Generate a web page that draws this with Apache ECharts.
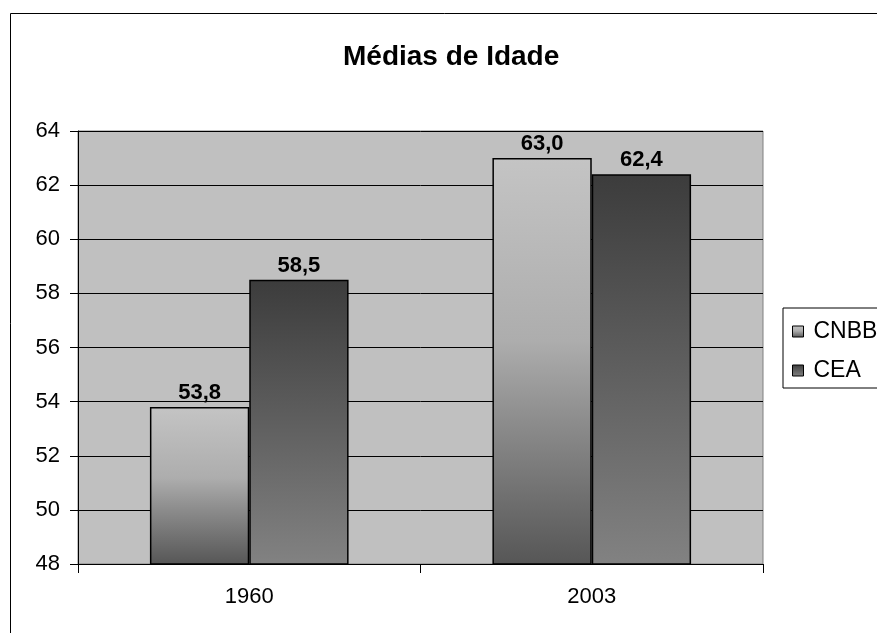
<!DOCTYPE html>
<html>
<head>
<meta charset="utf-8">
<script src="https://cdn.jsdelivr.net/npm/echarts@6/dist/echarts.min.js"></script>
<style>
  html, body { margin: 0; padding: 0; background: #fff; }
  #chart { width: 877px; height: 633px; }
</style>
</head>
<body>
<div id="chart"></div>
<script>
// dados do grafico
var categorias = ['1960', '2003'];
var cnbb = [53.8, 63.0];
var cea = [58.5, 62.4];
var nomesSeries = ['CNBB', 'CEA'];

var chart = echarts.init(document.getElementById('chart'));

// gradientes cinza (estilo Excel)
var gradCnbb = new echarts.graphic.LinearGradient(0, 0, 0, 1, [
    { offset: 0, color: '#c4c4c4' },
    { offset: 0.45, color: '#adadad' },
    { offset: 0.65, color: '#8c8c8c' },
    { offset: 1, color: '#565656' }
]);
var gradCea = new echarts.graphic.LinearGradient(0, 0, 0, 1, [
    { offset: 0, color: '#3c3c3c' },
    { offset: 1, color: '#828282' }
]);

function rotulo(p) {
    return p.value.toFixed(1).replace('.', ',');
}

var fonte = 'Liberation Sans, Arial, sans-serif';

var option = {
    animation: false,
    backgroundColor: '#fff',
    textStyle: { fontFamily: fonte },
    title: {
        text: 'Médias de Idade',
        left: 338,
        top: 38,
        textStyle: { fontFamily: fonte, fontSize: 28, fontWeight: 'bold', color: '#000' }
    },
    graphic: [{
        type: 'rect',
        z: -1,
        shape: { x: 10.5, y: 13.5, width: 1000, height: 1000 },
        style: { fill: 'none', stroke: '#000', lineWidth: 1 }
    }],
    legend: {
        orient: 'vertical',
        left: 783,
        top: 308,
        padding: [12, 40, 6, 9],
        itemGap: 16,
        itemWidth: 11,
        itemHeight: 11,
        icon: 'rect',
        borderColor: '#000',
        borderWidth: 1,
        backgroundColor: '#fff',
        itemStyle: { borderColor: '#000', borderWidth: 1 },
        textStyle: { fontFamily: fonte, fontSize: 23, color: '#000', lineHeight: 22, padding: [0, 0, 0, 5] },
        data: nomesSeries
    },
    grid: {
        left: 78,
        right: 114,
        top: 131,
        bottom: 69,
        show: true,
        backgroundColor: '#c0c0c0',
        borderColor: '#808080',
        borderWidth: 1
    },
    xAxis: {
        type: 'category',
        data: categorias,
        axisLine: { lineStyle: { color: '#000', width: 1 } },
        axisTick: { show: true, length: 9, lineStyle: { color: '#000' } },
        axisLabel: { fontFamily: fonte, fontSize: 22, color: '#000', margin: 22 }
    },
    yAxis: {
        type: 'value',
        min: 48,
        max: 64,
        interval: 2,
        axisLine: { show: true, lineStyle: { color: '#000', width: 1 } },
        axisTick: { show: true, length: 8, lineStyle: { color: '#000' } },
        axisLabel: { fontFamily: fonte, fontSize: 22, color: '#000', margin: 18 },
        splitLine: { show: true, lineStyle: { color: '#000', width: 1 } }
    },
    series: [{
        name: nomesSeries[0],
        type: 'bar',
        data: cnbb,
        barGap: '0%',
        barCategoryGap: '42%',
        itemStyle: { color: gradCnbb, borderColor: '#000', borderWidth: 1.5 },
        label: {
            show: true, position: 'top', distance: 3, formatter: rotulo,
            fontFamily: fonte, fontSize: 22, fontWeight: 'bold', color: '#000'
        }
    }, {
        name: nomesSeries[1],
        type: 'bar',
        data: cea,
        barGap: '0%',
        barCategoryGap: '42%',
        itemStyle: { color: gradCea, borderColor: '#000', borderWidth: 1.5 },
        label: {
            show: true, position: 'top', distance: 3, formatter: rotulo,
            fontFamily: fonte, fontSize: 22, fontWeight: 'bold', color: '#000'
        }
    }]
};

chart.setOption(option);
</script>
</body>
</html>
